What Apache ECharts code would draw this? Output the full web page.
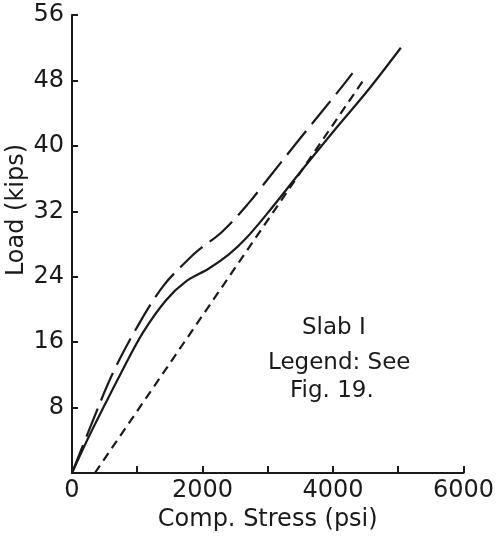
<!DOCTYPE html>
<html>
<head>
<meta charset="utf-8">
<script src="https://cdn.jsdelivr.net/npm/echarts@6/dist/echarts.min.js"></script>
<style>
html,body{margin:0;padding:0;background:#fff;}
#chart{width:497px;height:537px;}
</style>
</head>
<body>
<div id="chart"></div>
<script>
// Comp. stress (psi) vs Load (kips) — Slab 1
const solidStress = [0, 250, 500, 750, 1082, 1438, 1743, 2098, 2400, 2657, 3000, 3500, 4000, 4536, 5040];
const solidLoad   = [0, 4.3, 8.3, 12.2, 17.1, 21.1, 23.4, 25.0, 26.7, 28.6, 31.8, 36.8, 41.7, 46.8, 52.0];

const longStress = [0, 300, 625, 1031, 1412, 1793, 1947, 2301, 2708, 2987, 3495, 4105, 4300];
const longLoad   = [0, 6.0, 12.2, 18.3, 23.0, 26.2, 27.3, 29.5, 33.0, 35.8, 40.9, 46.9, 48.9];

const shortStress = [350, 4490];
const shortLoad   = [0, 48.3];

const xTicks = [0, 2000, 4000, 6000];
const yTicks = [8, 16, 24, 32, 40, 48, 56];

const zip = (a, b) => a.map((v, i) => [v, b[i]]);
const FONT = 'DejaVu Sans';
const INK = '#1a1a1a';

const chart = echarts.init(document.getElementById('chart'));
chart.setOption({
  animation: false,
  backgroundColor: '#fff',
  grid: { left: 72, right: 31, top: 15, bottom: 64, containLabel: false },
  xAxis: {
    type: 'value', min: 0, max: 6000, interval: 1000,
    name: 'Comp. Stress (psi)', nameLocation: 'middle', nameGap: 30,
    nameTextStyle: { fontFamily: FONT, fontSize: 24, color: INK },
    axisLine: { show: true, lineStyle: { color: INK, width: 2 } },
    axisTick: { show: true, inside: true, length: 7, lineStyle: { color: INK, width: 2 } },
    axisLabel: {
      margin: 6, fontFamily: FONT, fontSize: 24, color: INK,
      formatter: v => (xTicks.indexOf(v) >= 0 ? String(v) : '')
    },
    splitLine: { show: false }
  },
  yAxis: {
    type: 'value', min: 0, max: 56, interval: 8,
    axisLine: { show: true, lineStyle: { color: INK, width: 2 } },
    axisTick: { show: true, inside: true, length: 6, lineStyle: { color: INK, width: 2 } },
    axisLabel: {
      margin: 8, fontFamily: FONT, fontSize: 24, color: INK,
      formatter: v => (yTicks.indexOf(v) >= 0 ? String(v) : '')
    },
    splitLine: { show: false }
  },
  graphic: [
    { type: 'text', x: 17, y: 210, rotation: Math.PI / 2,
      style: { text: 'Load (kips)', fontFamily: FONT, fontSize: 24, fill: INK, align: 'center', verticalAlign: 'middle' } },
    { type: 'text', x: 302, y: 328,
      style: { text: 'Slab I', fontFamily: FONT, fontSize: 23, fill: INK, align: 'left', verticalAlign: 'middle' } },
    { type: 'text', x: 268, y: 363,
      style: { text: 'Legend: See', fontFamily: FONT, fontSize: 23, fill: INK, align: 'left', verticalAlign: 'middle' } },
    { type: 'text', x: 290, y: 391,
      style: { text: 'Fig. 19.', fontFamily: FONT, fontSize: 23, fill: INK, align: 'left', verticalAlign: 'middle' } }
  ],
  series: [
    { name: 'Solid', type: 'line', data: zip(solidStress, solidLoad), smooth: 0.35,
      showSymbol: false, lineStyle: { color: INK, width: 2.2, type: 'solid' } },
    { name: 'Long dash', type: 'line', data: zip(longStress, longLoad), smooth: 0.35,
      showSymbol: false, lineStyle: { color: INK, width: 2.2, type: [30, 9] } },
    { name: 'Short dash', type: 'line', data: zip(shortStress, shortLoad),
      showSymbol: false, lineStyle: { color: INK, width: 2.2, type: [9, 6] } }
  ]
});
</script>
</body>
</html>
